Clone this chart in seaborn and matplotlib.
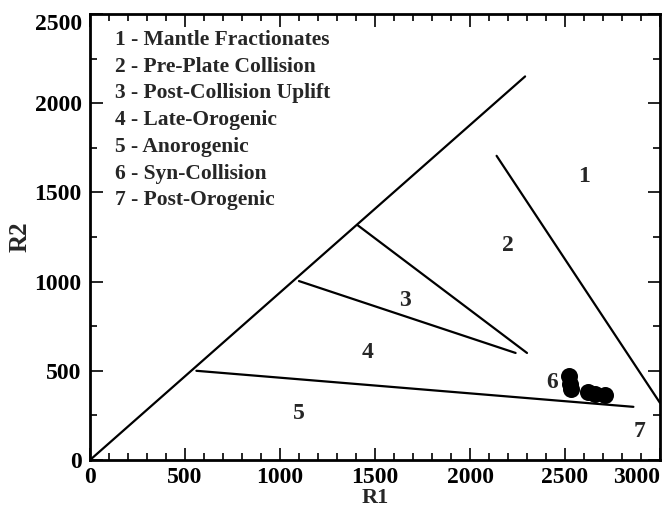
import numpy as np
import pandas as pd
import seaborn as sns
import matplotlib
matplotlib.use("Agg")
import matplotlib.pyplot as plt
from matplotlib.ticker import MultipleLocator

# ---- data ----
# boundary segments (R1, R2) endpoints
seg_names = ["diag", "b12", "b23", "b34", "b45"]
seg_r1_start = [0, 2140, 1410, 1100, 560]
seg_r2_start = [0, 1705, 1315, 1003, 500]
seg_r1_end = [2290, 3000, 2300, 2240, 2860]
seg_r2_end = [2150, 320, 600, 600, 298]

# sample points
pts_r1 = [2520, 2525, 2530, 2620, 2660, 2710]
pts_r2 = [470, 425, 400, 382, 372, 366]

# region labels
reg_text = ["1", "2", "3", "4", "5", "6", "7"]
reg_r1 = [2600, 2200, 1660, 1460, 1100, 2430, 2895]
reg_r2 = [1590, 1200, 895, 605, 258, 437, 157]

legend_lines = [
    "1 - Mantle Fractionates",
    "2 - Pre-Plate Collision",
    "3 - Post-Collision Uplift",
    "4 - Late-Orogenic",
    "5 - Anorogenic",
    "6 - Syn-Collision",
    "7 - Post-Orogenic",
]

x_ticks = [0, 500, 1000, 1500, 2000, 2500, 3000]
y_ticks = [0, 500, 1000, 1500, 2000, 2500]

sns.set_theme(style="ticks")
plt.rcParams["font.family"] = ["Liberation Serif", "DejaVu Serif"]
plt.rcParams["font.weight"] = "bold"

fig = plt.figure(figsize=(6.63, 5.14), dpi=100)
ax = fig.add_axes([90 / 663, 1 - 460 / 514, 570 / 663, 446 / 514])

rows = []
for n, a, b, c, d in zip(seg_names, seg_r1_start, seg_r2_start, seg_r1_end, seg_r2_end):
    rows.append({"seg": n, "R1": a, "R2": b})
    rows.append({"seg": n, "R1": c, "R2": d})
lines_df = pd.DataFrame(rows)
sns.lineplot(data=lines_df, x="R1", y="R2", units="seg", estimator=None, sort=False,
             color="black", lw=1.6, ax=ax)

pts_df = pd.DataFrame({"R1": pts_r1, "R2": pts_r2})
sns.scatterplot(data=pts_df, x="R1", y="R2", s=150, color="black", edgecolor="black",
                linewidth=0, ax=ax, zorder=5)

for t, a, b in zip(reg_text, reg_r1, reg_r2):
    ax.text(a, b, t, fontsize=17, fontweight="bold", ha="center", va="center")

for i, t in enumerate(legend_lines):
    fig.text(115 / 663, 1 - (40 + i * 26.7) / 514, t, fontsize=15.5, fontweight="bold",
             ha="left", va="center")

ax.set_xlim(0, 3000)
ax.set_ylim(0, 2500)
ax.set_xticks(x_ticks)
ax.set_yticks(y_ticks)
ax.set_xticklabels([str(v) for v in x_ticks])
ax.set_yticklabels([str(v) for v in y_ticks])
ax.xaxis.set_minor_locator(MultipleLocator(100))
ax.yaxis.set_minor_locator(MultipleLocator(250))
ax.tick_params(which="both", direction="in", top=True, right=True, width=1.2, colors="black")
ax.tick_params(which="major", length=9, labelsize=17)
ax.tick_params(axis="x", which="major", pad=5)
ax.tick_params(axis="y", which="major", pad=6)
ax.tick_params(which="minor", length=5)
for lab in ax.get_xticklabels() + ax.get_yticklabels():
    lab.set_fontweight("bold")
ax.get_xticklabels()[-1].set_ha("right")
ax.get_yticklabels()[-1].set_va("top")
for s in ax.spines.values():
    s.set_linewidth(2)
    s.set_color("black")

ax.set_xlabel("R1", fontsize=16, fontweight="bold", labelpad=0)
ax.set_ylabel("R2", fontsize=18, fontweight="bold", labelpad=2)

fig.savefig("out.png", dpi=100)
